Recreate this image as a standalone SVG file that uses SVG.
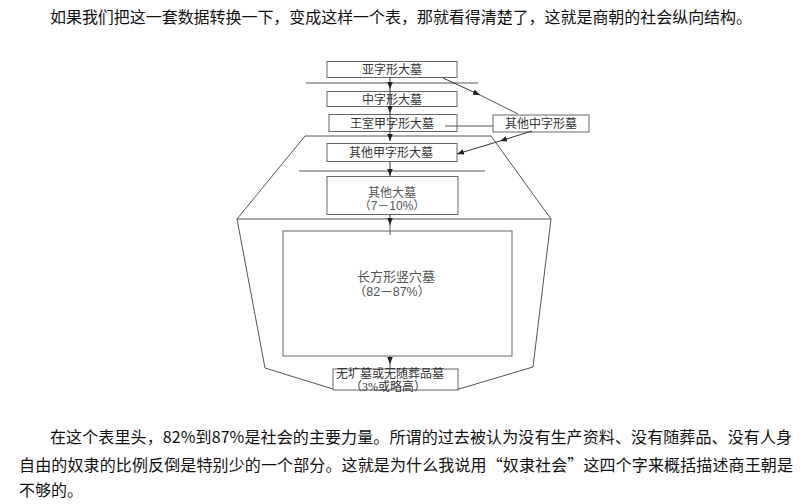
<svg xmlns="http://www.w3.org/2000/svg" width="806" height="504" viewBox="0 0 806 504">
<defs>
<marker id="ah" viewBox="0 0 10 8" refX="10" refY="4" markerWidth="7" markerHeight="5.6" orient="auto" markerUnits="userSpaceOnUse">
<path d="M0 0 L10 4 L0 8 Z" fill="#222"/>
</marker>
<style>
.para{font-family:"Noto Sans CJK SC","Noto Sans",sans-serif;font-size:16px;fill:#111}
.box{fill:#fff;stroke:#666;stroke-width:1}
.bt{font-family:"Liberation Serif","Noto Sans CJK SC",serif;font-size:12px;fill:#333;text-anchor:middle}
.st{font-family:"Liberation Sans","Noto Sans CJK SC",sans-serif;fill:#555;text-anchor:middle}
.ln{stroke:#555;stroke-width:1;fill:none}
.ar{stroke:#333;stroke-width:1;fill:none;marker-end:url(#ah)}
</style>
</defs>
<rect width="806" height="504" fill="#fff"/>
<text class="para" x="50" y="23" textLength="702" lengthAdjust="spacing">如果我们把这一套数据转换一下，变成这样一个表，那就看得清楚了，这就是商朝的社会纵向结构。</text>

<g id="frame">
<polygon class="ln" points="305,136 491,136 551,219 533,367 459,389 333,389 265,368 237,219"/>
<line class="ln" x1="306" y1="83" x2="478" y2="83"/>
<line class="ln" x1="299" y1="171" x2="485" y2="171"/>
<line class="ln" x1="237" y1="219" x2="551" y2="219"/>
</g>

<g id="n1"><rect class="box" x="327" y="61.5" width="130" height="16"/><text class="bt" x="392" y="74">亚字形大墓</text></g>
<g id="n2"><rect class="box" x="327" y="91.5" width="130" height="15"/><text class="bt" x="392" y="103.5">中字形大墓</text></g>
<g id="n3"><rect class="box" x="329" y="114.5" width="128" height="17"/><text class="bt" x="392" y="127.5">王室甲字形大墓</text></g>
<g id="n4"><rect class="box" x="327" y="143.5" width="130" height="18"/><text class="bt" x="391" y="157">其他甲字形大墓</text></g>
<g id="n5"><rect class="box" x="327" y="176.5" width="131" height="38"/><text class="st" x="392" y="197" font-size="12">其他大墓</text><text class="st" x="392" y="209.5" font-size="12">（7－10%）</text></g>
<g id="n6"><rect class="box" x="283" y="231" width="229" height="125"/><text class="st" x="396" y="281" font-size="13">长方形竖穴墓</text><text class="st" x="392" y="295.5" font-size="12.5">（82－87%）</text></g>
<g id="n7"><rect class="box" x="333" y="369" width="125" height="21"/><text class="bt" x="390" y="378" font-size="9">无圹墓或无随葬品墓</text><text class="bt" x="388" y="390.5" font-size="8.5">（3%或略高）</text></g>
<g id="n8"><rect class="box" x="493" y="115" width="96" height="17"/><text class="bt" x="541" y="128">其他中字形墓</text></g>

<g id="connectors">
<path class="ar" d="M390 77.5 V89"/>
<path class="ar" d="M390 89 V113"/>
<path class="ar" d="M390 113 V141"/>
<path class="ar" d="M390 161.5 V176"/>
<path class="ar" d="M390 214.5 V225"/>
<path class="ln" d="M390 225 V235"/>
<path class="ar" d="M390 356 V364"/>
<path class="ln" d="M390 364 V369"/>
<path class="ar" d="M443 78 L480 95"/>
<path class="ln" d="M480 95 L518 114"/>
<path class="ln" d="M445 126 H493"/>
<path class="ar" d="M532 131 L500 141"/>
<path class="ar" d="M500 141 L457 154"/>
</g>

<text class="para" x="50" y="443" textLength="742" lengthAdjust="spacing">在这个表里头，82%到87%是社会的主要力量。所谓的过去被认为没有生产资料、没有随葬品、没有人身</text>
<text class="para" x="19" y="471" textLength="774" lengthAdjust="spacing">自由的奴隶的比例反倒是特别少的一个部分。这就是为什么我说用“奴隶社会”这四个字来概括描述商王朝是</text>
<text class="para" x="19" y="496">不够的。</text>
</svg>
